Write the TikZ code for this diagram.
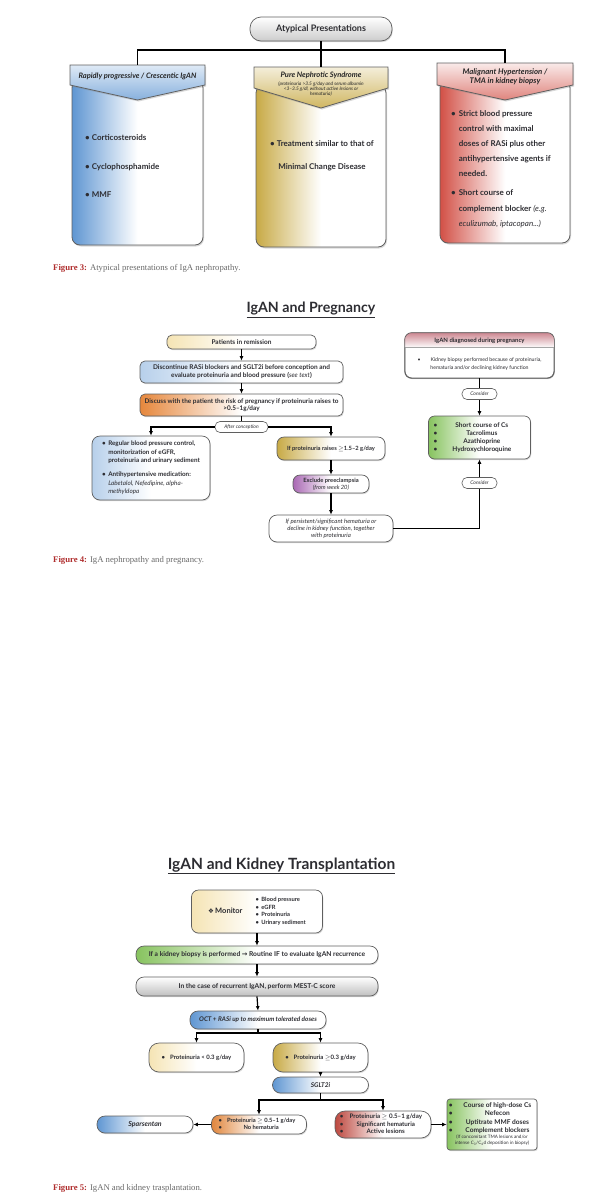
\documentclass[tikz,border=0pt]{standalone}
\usepackage{fontspec}
\setmainfont{Liberation Serif}
\setsansfont{Lato}
\newfontfamily\dejavu{DejaVu Sans}
\usepackage{tikz}
\usetikzlibrary{arrows.meta,shadows,calc}
\definecolor{txtGray}{RGB}{45,45,50}
\definecolor{edgeGray}{RGB}{95,95,95}
\definecolor{capRed}{RGB}{175,45,45}
\definecolor{capGray}{RGB}{105,105,105}
\definecolor{mainBlue}{RGB}{95,150,210}
\definecolor{mainOlive}{RGB}{200,170,70}
\definecolor{mainRed}{RGB}{210,80,70}
\definecolor{mainOrange}{RGB}{230,135,60}
\definecolor{mainGreen}{RGB}{135,195,95}
\definecolor{mainPurple}{RGB}{170,105,180}
\definecolor{mainPink}{RGB}{205,135,145}
\definecolor{mainCream}{RGB}{245,228,180}
\tikzset{
  box/.style={draw=edgeGray, line width=0.7pt, rounded corners=5pt, align=center, text=txtGray, inner sep=1pt,
    font=\sffamily\bfseries\fontsize{6.5}{8}\selectfont, drop shadow={shadow xshift=0.8pt, shadow yshift=-1.2pt, opacity=0.3}},
  pill/.style={box, rounded corners=8pt},
  sz/.style 2 args={minimum width=#1pt, minimum height=#2pt},
  wash/.style={left color=#1, right color=white, middle color=white},
  panel/.style={draw=edgeGray, line width=0.8pt, drop shadow={shadow xshift=1pt, shadow yshift=-1.5pt, opacity=0.3}},
  hdr/.style={align=center, inner sep=0pt, text=black!85, font=\sffamily\bfseries\itshape\fontsize{7.5}{9}\selectfont},
  bodytxt/.style={align=left, inner sep=0pt, text=txtGray, font=\sffamily\bfseries\fontsize{8}{9.5}\selectfont},
  tag/.style={draw=edgeGray, line width=0.6pt, rounded corners=5pt, fill=white, text=txtGray,
    font=\sffamily\itshape\fontsize{5}{6}\selectfont, minimum height=11pt, inner sep=1pt},
  arr/.style={-{Latex[length=4.5pt,width=4pt]}, line width=1.2pt},
  link/.style={line width=1.2pt},
  ttl/.style={text=txtGray, inner sep=0pt, font=\sffamily\bfseries\fontsize{14.2}{17}\selectfont},
  capt/.style={anchor=west, inner sep=0pt, text=capGray, font=\rmfamily\fontsize{8.7}{10}\selectfont},
}
\begin{document}
\begin{tikzpicture}[x=1pt, y=-1pt]
    \useasboundingbox (0,0) rectangle (612,1200);
    \node[pill, sz={142}{24}, rounded corners=11pt, top color=white, bottom color=gray!40,
      font=\sffamily\bfseries\fontsize{9}{10}\selectfont] (atyp) at (321,29) {Atypical Presentations};
    \coordinate (hAtop) at (137.5,65);
    \coordinate (hBtop) at (321,67);
    \coordinate (hCtop) at (505,63);
    \coordinate (bus) at (321,50);
    \draw[panel, wash=mainBlue, rounded corners=8pt] (72,80) rectangle (203,245);
    \draw[panel, wash=mainOlive, rounded corners=8pt] (256,85) rectangle (386,247);
    \draw[panel, wash=mainRed, rounded corners=8pt] (440,80) rectangle (570,243);
    \draw[panel, top color=mainBlue!20!white, bottom color=mainBlue!75!white] (70,65) -- (205,65) -- (205,85) -- (137.5,100) -- (70,85) -- cycle;
    \draw[panel, top color=mainOlive!20!white, bottom color=mainOlive!85!white] (254,67) -- (388,67) -- (388,88) -- (321,108) -- (254,88) -- cycle;
    \draw[panel, top color=mainRed!12!white, bottom color=mainRed!70!white] (437,63) -- (573,63) -- (573,85) -- (505,100) -- (437,85) -- cycle;
    \draw[link] (atyp.south) -- (hBtop);
    \draw[link] (hAtop) -- (hAtop |- bus) -- (hCtop |- bus) -- (hCtop);
    \node[hdr] (hA) at (137.5,76) {Rapidly progressive / Crescentic IgAN};
    \node[hdr] (hB) at (321,75) {Pure Nephrotic Syndrome};
    \node[hdr, font=\sffamily\itshape\fontsize{4.8}{5.2}\selectfont] (hBsub) at (321,89) {(proteinuria >3.5 g/day and serum albumin\\<3–3.5 g/dl, without active lesions or\\hematuria)};
    \node[hdr, font=\sffamily\bfseries\itshape\fontsize{7.8}{8.5}\selectfont] (hC) at (505,77) {Malignant Hypertension /\\TMA in kidney biopsy};
    \node[bodytxt, anchor=west] (cort) at (85,138) {\textbullet\ Corticosteroids};
    \node[bodytxt, anchor=west] (cyclo) at (85,167) {\textbullet\ Cyclophosphamide};
    \node[bodytxt, anchor=west] (mmf) at (85,195) {\textbullet\ MMF};
    \node[bodytxt, align=center, font=\sffamily\bfseries\fontsize{8}{23}\selectfont] (treat) at (322,155.5) {\textbullet\ Treatment similar to that of\\Minimal Change Disease};
    \node[bodytxt, anchor=north west, font=\sffamily\bfseries\fontsize{8}{15}\selectfont] (strict) at (451,105.5) {\begin{tabular}{@{}l@{\hspace{3pt}}l@{}}\textbullet & Strict blood pressure\\ & control with maximal\\ & doses of RASi plus other\\ & antihypertensive agents if\\ & needed.\end{tabular}};
    \node[bodytxt, anchor=north west, font=\sffamily\bfseries\fontsize{8}{15.5}\selectfont] (compl) at (451,184.5) {\begin{tabular}{@{}l@{\hspace{3pt}}l@{}}\textbullet & Short course of\\ & complement blocker {\mdseries\itshape (e.g.}\\ & {\mdseries\itshape eculizumab, iptacopan...)}\end{tabular}};
    \node[capt] (cap3) at (53,268) {\textcolor{capRed}{\textbf{Figure 3:}} Atypical presentations of IgA nephropathy.};

    \node[ttl] (ttl4) at (311,310) {\underline{IgAN and Pregnancy}};
    \node[box, sz={149}{14}, wash=mainCream] (rem) at (241.5,342) {Patients in remission};
    \node[box, sz={203}{22}, wash=mainBlue!45!white] (disc) at (241.5,372) {Discontinue RASi blockers and SGLT2i before conception and\\evaluate proteinuria and blood pressure ({\mdseries\itshape see text})};
    \node[box, sz={203}{22}, wash=mainOrange, font=\sffamily\bfseries\fontsize{6.4}{7.5}\selectfont] (risk) at (241.5,405) {Discuss with the patient the risk of pregnancy if proteinuria raises to\\>0.5–1g/day};
    \node[tag, minimum width=53pt] (afterc) at (241.5,427) {After conception};
    \node[box, sz={118}{64}, rounded corners=8pt, wash=mainBlue!45!white, font=\sffamily\bfseries\fontsize{6.3}{8.7}\selectfont] (regbp) at (151,468) {\begin{tabular}{@{}l@{\hspace{2.5pt}}l@{}}\textbullet & Regular blood pressure control,\\ & monitorization of eGFR,\\ & proteinuria and urinary sediment\\[5pt]\textbullet & Antihypertensive medication:\\ & {\mdseries\itshape Labetalol, Nefedipine, alpha-}\\ & {\mdseries\itshape methyldopa}\end{tabular}};
    \node[box, sz={108}{23}, rounded corners=7pt, wash=mainOlive, font=\sffamily\bfseries\fontsize{5.8}{7}\selectfont] (prot15) at (331,448.5) {If proteinuria raises $\geq$1.5–2 g/day};
    \node[box, sz={76}{18}, rounded corners=7pt, wash=mainPurple, font=\sffamily\bfseries\fontsize{5.8}{7}\selectfont] (precl) at (331,484) {Exclude preeclampsia\\{\mdseries\itshape (from week 20)}};
    \node[box, sz={124}{27}, rounded corners=8pt, fill=white, font=\sffamily\itshape\fontsize{6}{7.2}\selectfont] (persist) at (331,528.5) {If persistent/significant hematuria or\\decline in kidney function, together\\with proteinuria};
    \node[box, sz={149}{45}, rounded corners=7pt, fill=white] (diag) at (479.5,355.5) {};
    \begin{scope}
        \clip[rounded corners=7pt] (diag.north west) rectangle (diag.south east);
        \shade[top color=mainPink, bottom color=white] (diag.north west) rectangle ($(diag.north east)+(0,15)$);
    \end{scope}
    \draw[gray!70, line width=0.4pt] ($(diag.north west)+(0,15)$) -- ($(diag.north east)+(0,15)$);
    \draw[draw=edgeGray, line width=0.7pt, rounded corners=7pt] (diag.north west) rectangle (diag.south east);
    \node[inner sep=0pt, text=txtGray, font=\sffamily\bfseries\fontsize{6}{7}\selectfont] (diagt) at (479.5,340.5) {IgAN diagnosed during pregnancy};
    \node[inner sep=0pt, text=txtGray, align=center, font=\sffamily\fontsize{5.2}{8}\selectfont] (diagb) at (479.5,364) {\textbullet\hspace{10pt}Kidney biopsy performed because of proteinuria,\\hematuria and/or declining kidney function};
    \node[tag, minimum width=35pt] (cons1) at (479.5,394) {Consider};
    \node[box, sz={102}{43}, rounded corners=6pt, wash=mainGreen, font=\sffamily\bfseries\fontsize{6.5}{8}\selectfont] (cs) at (479.5,437.5) {\begin{tabular}{@{}l@{\hspace{15pt}}c@{\hspace{14pt}}}\textbullet & Short course of Cs\\\textbullet & Tacrolimus\\\textbullet & Azathioprine\\\textbullet & Hydroxychloroquine\end{tabular}};
    \node[tag, minimum width=35pt] (cons2) at (479.5,483) {Consider};
    \draw[arr] (rem.south) -- (disc.north);
    \draw[arr] (disc.south) -- (risk.north);
    \draw[link] (risk.south) -- (afterc.north);
    \draw[arr] (afterc.west) -| (regbp.north);
    \draw[arr] (afterc.east) -| (prot15.north);
    \draw[arr] (prot15.south) -- (precl.north);
    \draw[arr] (precl.south) -- (persist.north);
    \draw[link] (diag.south) -- (cons1.north);
    \draw[arr] (cons1.south) -- (cs.north);
    \draw[link] (persist.east) -| (cons2.south);
    \draw[arr] (cons2.north) -- (cs.south);
    \node[capt] (cap4) at (53,560) {\textcolor{capRed}{\textbf{Figure 4:}} IgA nephropathy and pregnancy.};

    \node[ttl, font=\sffamily\bfseries\fontsize{15.5}{18}\selectfont] (ttl5) at (281.5,866) {\underline{IgAN and Kidney Transplantation}};
    \node[box, sz={131}{43}, rounded corners=7pt, wash=mainCream, font=\sffamily\bfseries\fontsize{7.5}{8.5}\selectfont] (monitor) at (257,911.5) {{\dejavu\fontsize{6.5}{7}\selectfont ❖}\,Monitor\hspace{13pt}{\fontsize{5.8}{7.5}\selectfont\begin{tabular}[c]{@{}l@{\hspace{2.5pt}}l@{}}\textbullet & Blood pressure\\\textbullet & eGFR\\\textbullet & Proteinuria\\\textbullet & Urinary sediment\end{tabular}}};
    \node[pill, sz={242}{18}, wash=mainGreen, font=\sffamily\bfseries\fontsize{6.7}{7.5}\selectfont] (biopsy) at (257,955) {If a kidney biopsy is performed {\dejavu\bfseries →} Routine IF to evaluate IgAN recurrence};
    \node[pill, sz={242}{19}, top color=white, bottom color=gray!50, font=\sffamily\bfseries\fontsize{6.7}{7.5}\selectfont] (mest) at (257,986.5) {In the case of recurrent IgAN, perform MEST-C score};
    \node[pill, sz={136}{18}, wash=mainBlue, font=\sffamily\bfseries\itshape\fontsize{6.4}{7.5}\selectfont] (oct) at (258,1020) {OCT + RASi up to maximum tolerated doses};
    \coordinate (octbus) at (258,1033);
    \node[pill, sz={95}{29}, rounded corners=10pt, wash=mainCream, font=\sffamily\bfseries\fontsize{6}{7}\selectfont] (plow) at (196.5,1057.5) {\textbullet\hspace{5pt}Proteinuria < 0.3 g/day};
    \node[pill, sz={95}{29}, rounded corners=10pt, wash=mainOlive, font=\sffamily\bfseries\fontsize{6}{7}\selectfont] (phigh) at (320.5,1057.5) {\textbullet\hspace{5pt}Proteinuria $\geq$0.3 g/day};
    \node[pill, sz={96}{16}, wash=mainBlue, font=\sffamily\bfseries\itshape\fontsize{6.5}{7.5}\selectfont] (sglt) at (320.5,1085) {SGLT2i};
    \coordinate (sgltbus) at (320.5,1100);
    \node[pill, sz={95}{19}, wash=mainOrange!85!brown, font=\sffamily\bfseries\fontsize{5.8}{7}\selectfont] (pmod) at (259,1124.5) {\begin{tabular}{@{}l@{\hspace{5pt}}c@{\hspace{4pt}}}\textbullet & Proteinuria $\geq$ 0.5–1 g/day\\\textbullet & No hematuria\end{tabular}};
    \node[pill, sz={96}{17}, wash=mainBlue, font=\sffamily\bfseries\itshape\fontsize{7}{8}\selectfont] (spars) at (145,1124.5) {Sparsentan};
    \node[pill, sz={96}{27}, rounded corners=10pt, wash=mainRed!90!black, font=\sffamily\bfseries\fontsize{6.2}{7.6}\selectfont] (psev) at (383,1124.5) {\begin{tabular}{@{}l@{\hspace{6pt}}c@{\hspace{4pt}}}\textbullet & Proteinuria $\geq$ 0.5–1 g/day\\\textbullet & Significant hematuria\\\textbullet & Active lesions\end{tabular}};
    \node[box, sz={90}{51}, rounded corners=3pt, wash=mainGreen, font=\sffamily\bfseries\fontsize{6.6}{8.2}\selectfont] (green2) at (492,1124.5) {\begin{tabular}{@{}l@{\hspace{7pt}}c@{}}\textbullet & Course of high-dose Cs\\\textbullet & Nefecon\\\textbullet & Uptitrate MMF doses\\\textbullet & Complement blockers\\[-1.5pt]\multicolumn{2}{c}{\mdseries\fontsize{4.6}{5}\selectfont (If concomitant TMA lesions and/or}\\[-2.5pt]\multicolumn{2}{c}{\mdseries\fontsize{4.6}{5}\selectfont intense C\textsubscript{3}/C\textsubscript{4}d deposition in biopsy)}\end{tabular}};
    \draw[arr] (monitor.south) -- (biopsy.north);
    \draw[arr] (biopsy.south) -- (mest.north);
    \draw[arr] (mest.south) -- (oct.north);
    \draw[link] (oct.south) -- (octbus);
    \draw[arr] (octbus) -| (plow.north);
    \draw[arr] (octbus) -| (phigh.north);
    \draw[arr] (phigh.south) -- (sglt.north);
    \draw[link] (sglt.south) -- (sgltbus);
    \draw[arr] (sgltbus) -| (pmod.north);
    \draw[arr] (sgltbus) -| (psev.north);
    \draw[arr] (pmod.west) -- (spars.east);
    \draw[arr] (psev.east) -- (green2.west);
    \node[capt] (cap5) at (53,1188) {\textcolor{capRed}{\textbf{Figure 5:}} IgAN and kidney trasplantation.};
\end{tikzpicture}
\end{document}
